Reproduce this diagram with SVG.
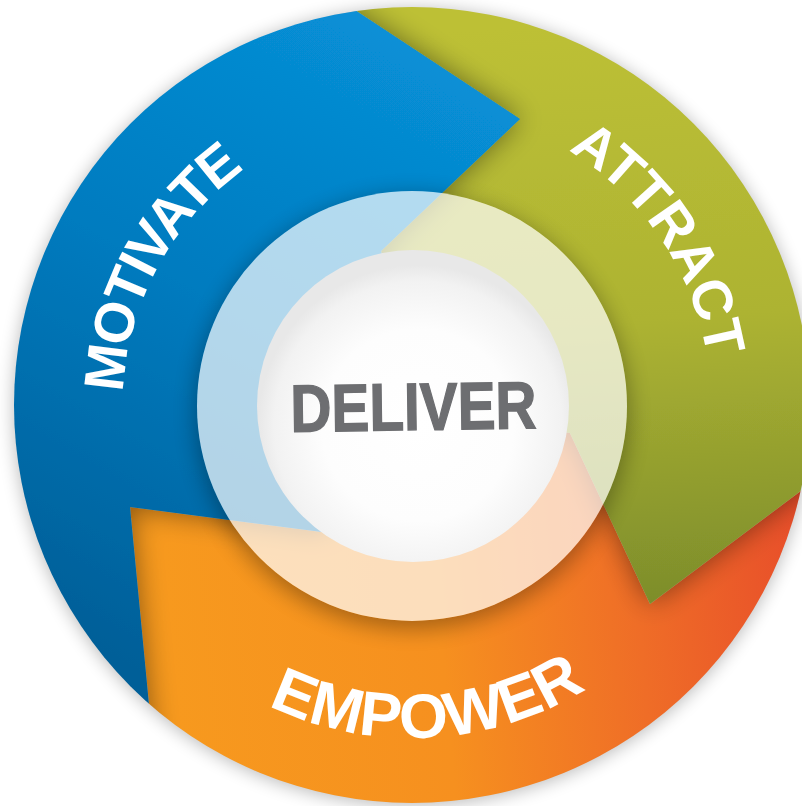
<svg xmlns="http://www.w3.org/2000/svg" width="802" height="806" viewBox="0 0 802 806">
<style>
.lbl{font-family:"Liberation Sans",Arial,sans-serif;font-weight:bold;fill:#ffffff}
.core{font-family:"Liberation Sans",Arial,sans-serif;font-weight:bold;fill:#6d6e71;stroke:#6d6e71;stroke-width:1.4}
</style>
<defs>
<clipPath id="disc"><circle cx="412" cy="405" r="398"/></clipPath>
<clipPath id="outsideRing"><path clip-rule="evenodd" d="M -10 -10 H 812 V 816 H -10 Z M 627 406 A 215 215 0 1 0 197 406 A 215 215 0 1 0 627 406 Z"/></clipPath>
<filter id="halo" x="-20%" y="-20%" width="140%" height="140%"><feGaussianBlur stdDeviation="9"/></filter>
<filter id="sh" x="-30%" y="-30%" width="160%" height="160%">
<feGaussianBlur in="SourceAlpha" stdDeviation="14"/>
<feComponentTransfer><feFuncA type="linear" slope="0.45"/></feComponentTransfer>
<feMerge><feMergeNode/><feMergeNode in="SourceGraphic"/></feMerge>
</filter>
<filter id="ringsh" x="-20%" y="-20%" width="140%" height="140%"><feGaussianBlur stdDeviation="11"/></filter>
<linearGradient id="gBlue" gradientUnits="userSpaceOnUse" x1="480" y1="40" x2="120" y2="660">
<stop offset="0" stop-color="#0892d9"/><stop offset="0.5" stop-color="#027bbf"/><stop offset="1" stop-color="#005f98"/>
</linearGradient>
<linearGradient id="gGreen" gradientUnits="userSpaceOnUse" x1="620" y1="20" x2="660" y2="620">
<stop offset="0" stop-color="#bdc036"/><stop offset="0.5" stop-color="#adb332"/><stop offset="1" stop-color="#7a8b2b"/>
</linearGradient>
<linearGradient id="gOrange" gradientUnits="userSpaceOnUse" x1="140" y1="620" x2="800" y2="560">
<stop offset="0" stop-color="#f79a1e"/><stop offset="0.45" stop-color="#f6901f"/><stop offset="0.75" stop-color="#ef6d27"/><stop offset="1" stop-color="#e84f2a"/>
</linearGradient>
<radialGradient id="gCore" cx="418" cy="425" r="160" gradientUnits="userSpaceOnUse">
<stop offset="0" stop-color="#ffffff"/><stop offset="0.6" stop-color="#fdfdfd"/><stop offset="0.9" stop-color="#f2f2f2"/><stop offset="1" stop-color="#e8e8e8"/>
</radialGradient>
<path id="pMot" d="M 163.0 552.0 A 289 289 0 0 1 398.0 116.3"/>
<path id="pAtt" d="M 396.4 107.4 A 298 298 0 0 1 682.3 532.6"/>
<path id="pEmp" d="M 132.7 586.4 A 333 333 0 0 0 708.7 556.2"/>
</defs>
<rect width="802" height="806" fill="#ffffff"/>
<circle cx="412" cy="407" r="398" fill="#000" opacity="0.28" filter="url(#halo)"/>
<g clip-path="url(#disc)">
<g id="empower">
<polygon points="130,507 322,532 412,405 570,433 650,604 850,454 850,850 163,850" fill="url(#gOrange)"/>
</g>
<g id="attract">
<polygon points="264,-50 520,119 381,251 412,405 570,433 650,604 850,454 850,-50" fill="url(#gGreen)" filter="url(#sh)"/>
</g>
<g id="motivate">
<polygon points="264,-50 520,119 381,251 412,405 322,532 130,507 163,850 -50,850 -50,-50" fill="url(#gBlue)" filter="url(#sh)"/>
</g>
<g clip-path="url(#outsideRing)">
<circle cx="412" cy="412" r="217" fill="#000" opacity="0.32" filter="url(#ringsh)"/>
</g>
</g>
<g id="labels">
<text class="lbl" font-size="56" letter-spacing="-2.5"><textPath href="#pMot" startOffset="50%" text-anchor="middle">MOTIVATE</textPath></text>
<text class="lbl" font-size="56" letter-spacing="-0.5"><textPath href="#pAtt" startOffset="50%" text-anchor="middle">ATTRACT</textPath></text>
<text class="lbl" font-size="63"><textPath href="#pEmp" startOffset="50%" text-anchor="middle">EMPOWER</textPath></text>
</g>
<g id="deliver">
<circle cx="412" cy="406" r="215" fill="#ffffff" opacity="0.7"/>
<circle cx="413" cy="406" r="156" fill="url(#gCore)"/>
<text class="core" x="413.5" y="430" font-size="67" text-anchor="middle" textLength="246" lengthAdjust="spacingAndGlyphs" transform="rotate(-0.8 413 407)">DELIVER</text>
</g>
</svg>
